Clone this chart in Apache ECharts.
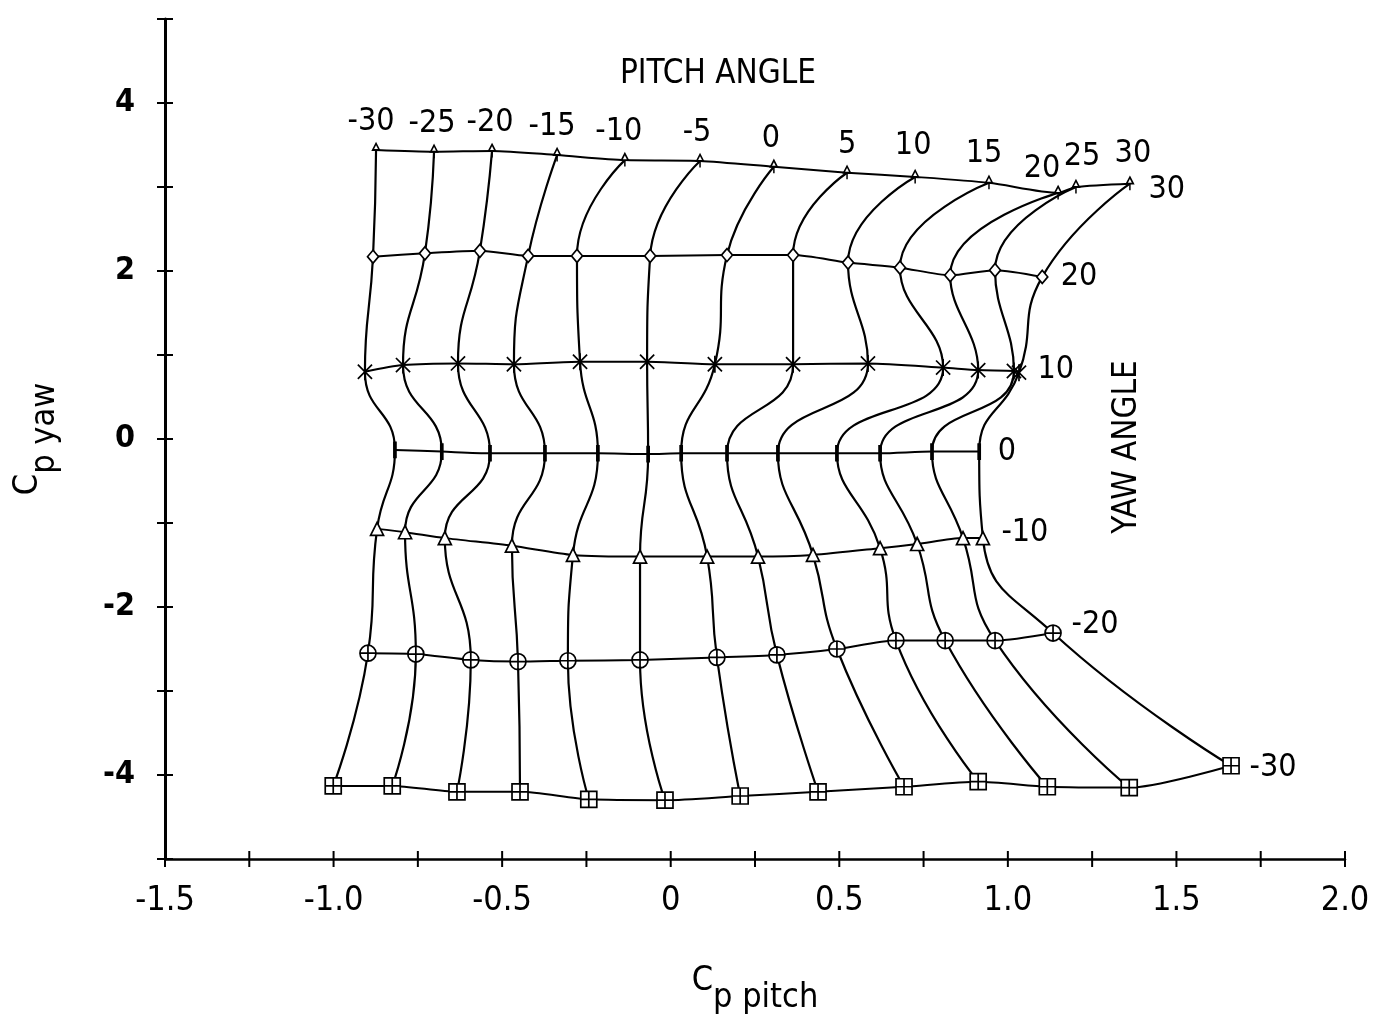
<!DOCTYPE html>
<html><head><meta charset="utf-8">
<script src="https://cdn.jsdelivr.net/npm/echarts@6/dist/echarts.min.js"></script>
<style>html,body{margin:0;padding:0;background:#fff}#c{width:1378px;height:1014px}</style>
</head><body><div id="c"></div><script>
// ---- data ----
const pitchAngles = [-30,-25,-20,-15,-10,-5,0,5,10,15,20,25,30];
const yawAngles = [30,20,10,0,-10,-20,-30];

const cpPitchYaw30 = [-0.874,-0.702,-0.530,-0.337,-0.136,0.087,0.306,0.523,0.725,0.944,1.149,1.202,1.362];
const cpYawYaw30   = [3.44,3.42,3.43,3.38,3.32,3.31,3.24,3.17,3.12,3.05,2.93,3.00,3.04];

const cpPitchYaw20 = [-0.883,-0.729,-0.566,-0.423,-0.278,-0.061,0.167,0.363,0.526,0.680,0.829,0.962,1.102];
const cpYawYaw20   = [2.17,2.21,2.24,2.18,2.18,2.18,2.19,2.19,2.10,2.04,1.95,2.01,1.93];

const cpPitchYaw10 = [-0.907,-0.794,-0.631,-0.465,-0.269,-0.070,0.131,0.363,0.585,0.808,0.912,1.018,1.033];
const cpYawYaw10   = [0.80,0.88,0.90,0.89,0.92,0.92,0.89,0.89,0.90,0.85,0.82,0.81,0.79];

const cpPitchYaw0  = [-0.818,-0.679,-0.536,-0.373,-0.216,-0.067,0.031,0.167,0.318,0.493,0.621,0.775,0.915];
const cpYawYaw0    = [-0.13,-0.15,-0.17,-0.17,-0.17,-0.18,-0.17,-0.17,-0.17,-0.17,-0.17,-0.15,-0.15];

const cpPitchYawM10 = [-0.871,-0.788,-0.670,-0.471,-0.290,-0.091,0.108,0.259,0.422,0.621,0.731,0.867,0.926];
const cpYawYawM10   = [-1.07,-1.11,-1.18,-1.27,-1.38,-1.40,-1.40,-1.40,-1.38,-1.30,-1.25,-1.18,-1.18];

const cpPitchYawM20 = [-0.898,-0.756,-0.593,-0.453,-0.305,-0.091,0.137,0.315,0.493,0.668,0.814,0.962,1.134];
const cpYawYawM20   = [-2.55,-2.56,-2.63,-2.65,-2.64,-2.63,-2.60,-2.57,-2.50,-2.40,-2.40,-2.40,-2.31];

const cpPitchYawM30 = [-1.001,-0.826,-0.634,-0.447,-0.243,-0.017,0.206,0.437,0.692,0.912,1.117,1.360,1.662];
const cpYawYawM30   = [-4.13,-4.13,-4.20,-4.20,-4.29,-4.30,-4.25,-4.20,-4.14,-4.08,-4.14,-4.15,-3.89];

// axis tick values (tick marks cross the axis lines)
const xTickValues = [-1.5,-1.25,-1.0,-0.75,-0.5,-0.25,0,0.25,0.5,0.75,1.0,1.25,1.5,1.75,2.0];
const yTickValues = [-5,-4,-3,-2,-1,0,1,2,3,4,5];

// ---- styling ----
const X_MIN = -1.5, X_MAX = 2.0, Y_MIN = -5, Y_MAX = 5;
const FONT = "'DejaVu Sans Condensed','Liberation Sans Narrow','DejaVu Sans',sans-serif";
const rows = [
  {x: cpPitchYaw30,  y: cpYawYaw30,  symbol: 'path://M0,-6L4,0L-4,0ZM0,0L0,6', size: [10,13]},
  {x: cpPitchYaw20,  y: cpYawYaw20,  symbol: 'diamond', size: [11,13]},
  {x: cpPitchYaw10,  y: cpYawYaw10,  symbol: 'path://M-5,-5L5,5M-5,5L5,-5M0,-6L0,6', size: 17},
  {x: cpPitchYaw0,   y: cpYawYaw0,   symbol: 'rect', size: [2,9], fill: '#000'},
  {x: cpPitchYawM10, y: cpYawYawM10, symbol: 'triangle', size: 13},
  {x: cpPitchYawM20, y: cpYawYawM20, symbol: 'path://M-6,0A6,6,0,1,1,6,0A6,6,0,1,1,-6,0ZM-6,0L6,0M0,-6L0,6', size: 16},
  {x: cpPitchYawM30, y: cpYawYawM30, symbol: 'path://M-6,-6L6,-6L6,6L-6,6ZM0,-6L0,6M-6,0L6,0', size: 16}
];
const pitchLabelNudge = [[-5,0],[-2,0],[-2,0],[-5,0],[-6,0],[-3,0],[-3,0],[0,0],[-2,-3],[-5,-1],[-16,4],[6,-2],[3,-1]];
const yawLabelNudge = [[0,6],[0,0],[0,-3],[0,0],[0,-5],[0,-8],[0,2]];

const labelText = {color: '#000', fontSize: 32, fontFamily: FONT, textBorderWidth: 0, opacity: 1};

const series = [];
// pitch-angle curves (columns)
pitchAngles.forEach((p, j) => {
  series.push({
    type: 'line', smooth: 0.5, symbol: 'none', silent: true, z: 2,
    data: rows.map(r => [r.x[j], r.y[j]]),
    lineStyle: {color: '#000', width: 2.2}
  });
});
// yaw-angle rows with markers
rows.forEach((r, i) => {
  series.push({
    type: 'line', smooth: 0.25, z: 3,
    symbol: r.symbol, symbolSize: r.size, symbolKeepAspect: true, showAllSymbol: true,
    data: r.x.map((v, j) => [v, r.y[j]]),
    lineStyle: {color: '#000', width: 2},
    itemStyle: {color: r.fill || '#fff', borderColor: '#000', borderWidth: 1.7}
  });
});
// pitch angle labels on the yaw=30 row
series.push({
  type: 'scatter', symbolSize: 1, z: 5, silent: true,
  itemStyle: {color: '#000', opacity: 0},
  data: cpPitchYaw30.map((v, j) => ({
    value: [v, cpYawYaw30[j]],
    label: Object.assign({offset: pitchLabelNudge[j]}, labelText)
  })),
  label: Object.assign({show: true, position: 'top', distance: 12,
    formatter: p => String(pitchAngles[p.dataIndex])}, labelText)
});
// yaw angle labels at the pitch=30 end of each row
series.push({
  type: 'scatter', symbolSize: 1, z: 5, silent: true,
  itemStyle: {color: '#000', opacity: 0},
  data: rows.map((r, i) => ({
    value: [r.x[12], r.y[12]],
    label: Object.assign({offset: yawLabelNudge[i]}, labelText)
  })),
  label: Object.assign({show: true, position: 'right', distance: 18,
    formatter: p => String(yawAngles[p.dataIndex])}, labelText)
});
// crossing tick marks on both axes
const TICK = 8;
series.push({
  type: 'custom', silent: true, clip: false, z: 6,
  data: xTickValues.map(v => [v, Y_MIN]),
  renderItem: (params, api) => {
    const c = api.coord([api.value(0), api.value(1)]);
    return {type: 'line', shape: {x1: c[0], y1: c[1] - TICK, x2: c[0], y2: c[1] + TICK},
      style: {stroke: '#000', lineWidth: 2}};
  }
});
series.push({
  type: 'custom', silent: true, clip: false, z: 6,
  data: yTickValues.map(v => [X_MIN, v]),
  renderItem: (params, api) => {
    const c = api.coord([api.value(0), api.value(1)]);
    return {type: 'line', shape: {x1: c[0] - TICK, y1: c[1], x2: c[0] + TICK, y2: c[1]},
      style: {stroke: '#000', lineWidth: 2}};
  }
});

const nameRich = {
  c: {fontSize: 34, fontFamily: FONT, color: '#000', padding: [0, 0, 34, 0]},
  s: {fontSize: 34, fontFamily: FONT, color: '#000'}
};

const option = {
  animation: false,
  backgroundColor: '#fff',
  grid: {left: 165, right: 33, top: 19, bottom: 155, containLabel: false, outerBoundsMode: 'none'},
  xAxis: {
    type: 'value', min: X_MIN, max: X_MAX, interval: 0.25, splitLine: {show: false},
    name: '{c|C}{s|p pitch}', nameLocation: 'middle', nameGap: 105,
    nameTextStyle: {fontSize: 34, fontFamily: FONT, color: '#000', rich: nameRich},
    axisLine: {show: true, onZero: false, lineStyle: {color: '#000', width: 2.5}},
    axisTick: {show: false},
    axisLabel: {color: '#000', fontSize: 34, fontFamily: FONT, margin: 25,
      formatter: v => { const r = Math.round(v * 4); if (r % 2 !== 0) return ''; return v === 0 ? '0' : v.toFixed(1); }}
  },
  yAxis: {
    type: 'value', min: Y_MIN, max: Y_MAX, interval: 1, splitLine: {show: false},
    name: '{c|C}{s|p yaw}', nameLocation: 'middle', nameGap: 86, nameRotate: 90,
    nameTextStyle: {fontSize: 34, fontFamily: FONT, color: '#000', rich: nameRich},
    axisLine: {show: true, onZero: false, lineStyle: {color: '#000', width: 3}},
    axisTick: {show: false},
    axisLabel: {color: '#000', fontSize: 32, fontWeight: 'bold', fontFamily: FONT, margin: 30,
      formatter: v => (v % 2 === 0 && Math.abs(v) < 5) ? String(v) : ''}
  },
  graphic: [
    {type: 'text', x: 718, y: 74, style: {text: 'PITCH ANGLE', fill: '#000', font: '33px ' + FONT, textAlign: 'center', textVerticalAlign: 'middle'}},
    {type: 'text', x: 1127, y: 447, rotation: Math.PI / 2, style: {text: 'YAW ANGLE', fill: '#000', font: '33px ' + FONT, textAlign: 'center', textVerticalAlign: 'middle'}}
  ],
  series: series
};
const chart = echarts.init(document.getElementById('c'), null, {renderer: 'canvas'});
chart.setOption(option);
</script></body></html>
